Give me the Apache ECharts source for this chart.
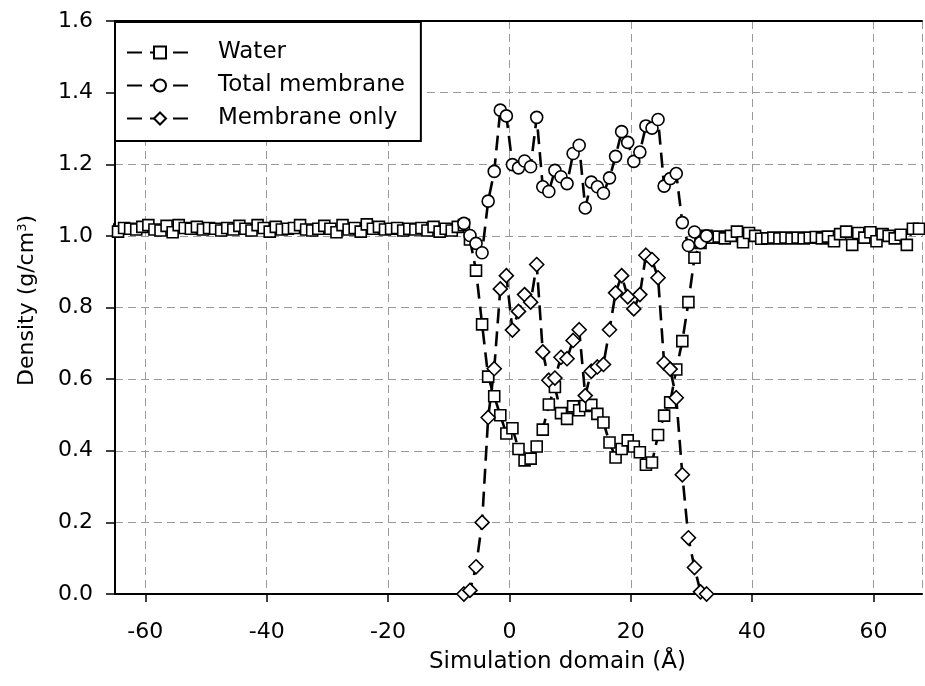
<!DOCTYPE html>
<html>
<head>
<meta charset="utf-8">
<title>Density profile</title>
<script src="https://cdn.jsdelivr.net/npm/echarts@6/dist/echarts.min.js"></script>
<style>
  html, body { margin: 0; padding: 0; background: #fff; }
  #chart { width: 925px; height: 686px; }
</style>
</head>
<body>
<div id="chart"></div>
<script>
// bin centres (Å)
var xLeft = [-65.5, -64.5, -63.5, -62.5, -61.5, -60.5, -59.5, -58.5, -57.5, -56.5,
  -55.5, -54.5, -53.5, -52.5, -51.5, -50.5, -49.5, -48.5, -47.5, -46.5,
  -45.5, -44.5, -43.5, -42.5, -41.5, -40.5, -39.5, -38.5, -37.5, -36.5,
  -35.5, -34.5, -33.5, -32.5, -31.5, -30.5, -29.5, -28.5, -27.5, -26.5,
  -25.5, -24.5, -23.5, -22.5, -21.5, -20.5, -19.5, -18.5, -17.5, -16.5,
  -15.5, -14.5, -13.5, -12.5, -11.5, -10.5, -9.5, -8.5];
var xMid = [-7.5, -6.5, -5.5, -4.5, -3.5, -2.5, -1.5, -0.5, 0.5, 1.5,
  2.5, 3.5, 4.5, 5.5, 6.5, 7.5, 8.5, 9.5, 10.5, 11.5,
  12.5, 13.5, 14.5, 15.5, 16.5, 17.5, 18.5, 19.5, 20.5, 21.5,
  22.5, 23.5, 24.5, 25.5, 26.5, 27.5, 28.5, 29.5, 30.5, 31.5, 32.5];
var xRight = [33.5, 34.5, 35.5, 36.5, 37.5, 38.5, 39.5, 40.5, 41.5, 42.5,
  43.5, 44.5, 45.5, 46.5, 47.5, 48.5, 49.5, 50.5, 51.5, 52.5,
  53.5, 54.5, 55.5, 56.5, 57.5, 58.5, 59.5, 60.5, 61.5, 62.5,
  63.5, 64.5, 65.5, 66.5, 67.5];

// density values (g/cm3)
var waterLeft = [1.035, 1.012, 1.022, 1.020, 1.018, 1.025, 1.030, 1.018, 1.015, 1.028,
  1.010, 1.030, 1.022, 1.020, 1.025, 1.018, 1.022, 1.020, 1.015, 1.022,
  1.018, 1.028, 1.020, 1.015, 1.030, 1.022, 1.012, 1.025, 1.018, 1.020,
  1.022, 1.030, 1.018, 1.015, 1.020, 1.028, 1.020, 1.010, 1.030, 1.018,
  1.022, 1.012, 1.032, 1.020, 1.025, 1.018, 1.020, 1.022, 1.015, 1.020,
  1.018, 1.022, 1.015, 1.025, 1.012, 1.020, 1.015, 1.025];
var waterMid = [1.030, 0.990, 0.903, 0.753, 0.607, 0.552, 0.499, 0.448, 0.463, 0.405,
  0.373, 0.378, 0.412, 0.459, 0.529, 0.578, 0.505, 0.489, 0.524, 0.513,
  0.525, 0.528, 0.503, 0.479, 0.423, 0.381, 0.405, 0.429, 0.412, 0.396,
  0.361, 0.367, 0.444, 0.498, 0.535, 0.627, 0.706, 0.815, 0.939, 0.980, 1.000];
var waterRight = [0.995, 0.998, 0.993, 1.000, 1.012, 0.982, 1.008, 1.000, 0.992, 0.993,
  0.995, 0.993, 0.995, 0.993, 0.995, 0.993, 0.995, 0.997, 0.993, 0.998,
  0.985, 1.005, 1.012, 0.975, 1.008, 0.995, 1.010, 0.985, 1.005, 1.000,
  0.993, 1.003, 0.975, 1.020, 1.020];
var totalMembrane = [1.035, 1.001, 0.979, 0.953, 1.097, 1.180, 1.351, 1.335, 1.199, 1.190,
  1.209, 1.193, 1.331, 1.137, 1.124, 1.183, 1.165, 1.146, 1.230, 1.253,
  1.078, 1.150, 1.137, 1.119, 1.162, 1.222, 1.291, 1.261, 1.208, 1.234,
  1.307, 1.301, 1.325, 1.139, 1.160, 1.174, 1.037, 0.973, 1.011, 0.981, 1.000];
var membraneOnly = [0.000, 0.010, 0.076, 0.200, 0.493, 0.629, 0.852, 0.889, 0.737, 0.789,
  0.836, 0.815, 0.920, 0.676, 0.597, 0.603, 0.661, 0.657, 0.708, 0.738,
  0.554, 0.622, 0.634, 0.641, 0.738, 0.841, 0.889, 0.830, 0.796, 0.836,
  0.946, 0.934, 0.883, 0.645, 0.628, 0.548, 0.333, 0.157, 0.074, 0.006, 0.000];

var seriesNames = ["Water", "Total membrane", "Membrane only"];

function pairs(xs, ys) {
  var out = [];
  for (var i = 0; i < xs.length; i++) out.push([xs[i], ys[i]]);
  return out;
}

var waterData = pairs(xLeft, waterLeft).concat(pairs(xMid, waterMid), pairs(xRight, waterRight));
var totalData = pairs(xMid, totalMembrane);
var memData = pairs(xMid, membraneOnly);

var FONT = "DejaVu Sans";

function lineSeries(name, data, symbol, size) {
  return {
    name: name,
    type: "line",
    data: data,
    symbol: symbol,
    symbolSize: size,
    showAllSymbol: true,
    animation: false,
    lineStyle: { color: "#000", width: 2.6, type: [15, 8] },
    itemStyle: { color: "#fff", borderColor: "#000", borderWidth: 1.6 },
    emphasis: { disabled: true }
  };
}

function dotSeries(data) {
  return {
    type: "scatter",
    data: data,
    symbol: "circle",
    symbolSize: 2.6,
    silent: true,
    animation: false,
    itemStyle: { color: "#000" }
  };
}

var myChart = echarts.init(document.getElementById("chart"));
var option = {
  backgroundColor: "#fff",
  animation: false,
  grid: { left: 115, top: 21, right: 3, bottom: 92 },
  legend: {
    data: seriesNames,
    orient: "vertical",
    left: 115,
    top: 22,
    padding: [19, 16, 11, 11],
    itemWidth: 66,
    itemHeight: 15,
    itemGap: 10,
    backgroundColor: "#fff",
    borderColor: "#000",
    borderWidth: 2,
    borderRadius: 0,
    textStyle: { fontFamily: FONT, fontSize: 23, color: "#000", lineHeight: 23, padding: [0, 0, 0, 20] }
  },
  xAxis: [
    {
      type: "value",
      min: -65,
      max: 68,
      splitNumber: 7,
      name: "Simulation domain (Å)",
      nameLocation: "middle",
      nameGap: 57,
      nameTextStyle: { fontFamily: FONT, fontSize: 23, color: "#000", padding: [0, 0, 0, 78] },
      axisLine: { onZero: false, lineStyle: { color: "#000", width: 2 } },
      axisTick: { inside: false, length: 8, lineStyle: { color: "#000", width: 1.5 } },
      axisLabel: { fontFamily: FONT, fontSize: 22, color: "#000", margin: 27, showMinLabel: false, showMaxLabel: false },
      splitLine: { show: true, lineStyle: { color: "#9a9a9a", width: 1, type: [8, 5] } }
    },
    {
      type: "value",
      position: "top",
      min: -65,
      max: 68,
      axisLine: { show: true, onZero: false, lineStyle: { color: "#000", width: 2 } },
      axisTick: { show: false },
      axisLabel: { show: false },
      splitLine: { show: false }
    }
  ],
  yAxis: {
    type: "value",
    min: 0,
    max: 1.6,
    interval: 0.2,
    name: "Density (g/cm{sup|3})",
    nameLocation: "middle",
    nameGap: 76,
    nameTextStyle: {
      fontFamily: FONT, fontSize: 22, color: "#000", padding: [0, 0, 0, 14],
      rich: { sup: { fontFamily: FONT, fontSize: 13, color: "#000", verticalAlign: "top", padding: [0, 0, 10, 0] } }
    },
    axisLine: { show: true, onZero: false, lineStyle: { color: "#000", width: 2 } },
    axisTick: { inside: false, length: 9, lineStyle: { color: "#000", width: 1.5 } },
    axisLabel: {
      fontFamily: FONT, fontSize: 22, color: "#000", margin: 22,
      formatter: function (v) { return v.toFixed(1); }
    },
    splitLine: { show: true, lineStyle: { color: "#9a9a9a", width: 1, type: [8, 5] } }
  },
  series: [
    lineSeries(seriesNames[0], waterData, "rect", 11),
    dotSeries(waterData),
    lineSeries(seriesNames[1], totalData, "circle", 12),
    dotSeries(totalData),
    lineSeries(seriesNames[2], memData, "diamond", 14),
    dotSeries(memData)
  ]
};
myChart.setOption(option);
</script>
</body>
</html>
